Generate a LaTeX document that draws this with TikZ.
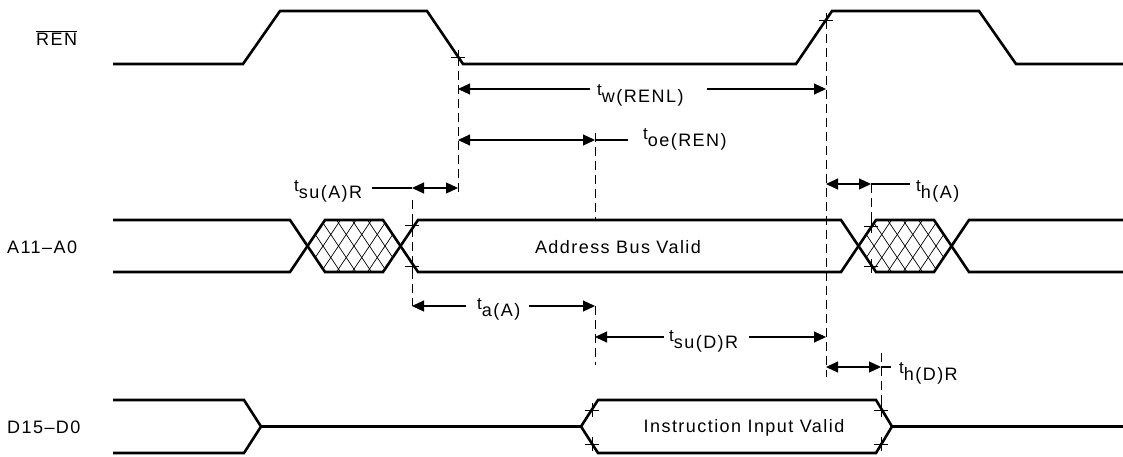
\documentclass[tikz,border=0pt]{standalone}
\usepackage{fontspec}
\setmainfont{Liberation Sans}[LetterSpace=8]
\usetikzlibrary{arrows.meta}
\newcommand\tsub[1]{{\fontsize{17}{18}\selectfont t}\raisebox{-7pt}{#1}}
\begin{document}
\begin{tikzpicture}[x=1pt,y=-1pt,
  wave/.style={line width=2.6pt, line join=miter},
  dimline/.style={line width=1.1pt},
  tipL/.style={{Triangle[length=12pt,width=11pt]}-},
  tipR/.style={-{Triangle[length=12pt,width=11pt]}},
  tipLR/.style={{Triangle[length=12pt,width=11pt]}-{Triangle[length=12pt,width=11pt]}},
  guide/.style={line width=0.9pt, dash pattern=on 9pt off 5pt},
  hatch/.style={line width=0.7pt},
  tick/.style={line width=0.8pt},
  lbl/.style={font=\fontsize{18}{20}\selectfont, inner sep=0pt},
]
\useasboundingbox (0,0) rectangle (1123,456);

% signal names
\node[lbl, anchor=west] (nren) at (36,38) {$\overline{\mbox{REN}}$};
\node[lbl, anchor=west] (naddr) at (7,247) {A11--A0};
\node[lbl, anchor=west] (ndata) at (7,427) {D15--D0};

% REN waveform
\draw[wave] (113,64) -- (243,64) -- (280,11) -- (427,11) -- (463,64) -- (796,64) -- (832,11) -- (979,11) -- (1016,64) -- (1123,64);

% address bus
\draw[wave] (113,220) -- (290,220) -- (325,272) -- (383,272) -- (418,220) -- (841,220) -- (876,272) -- (934,272) -- (969,220) -- (1123,220);
\draw[wave] (113,272) -- (290,272) -- (325,220) -- (383,220) -- (418,272) -- (841,272) -- (876,220) -- (934,220) -- (969,272) -- (1123,272);
\node[lbl] (abv) at (618,247) {Address Bus Valid};

% hatching
\begin{scope}
\clip (307.5,246) -- (325,220) -- (383,220) -- (400.5,246) -- (383,272) -- (325,272) -- cycle;
\foreach \k in {-8,...,8} {
  \draw[hatch] ({307.5+\k*15.5-35},298) -- ({307.5+\k*15.5+35},194);
  \draw[hatch] ({307.5+\k*15.5-35},194) -- ({307.5+\k*15.5+35},298);
}
\end{scope}
\begin{scope}
\clip (858.5,246) -- (876,220) -- (934,220) -- (951.5,246) -- (934,272) -- (876,272) -- cycle;
\foreach \k in {-8,...,8} {
  \draw[hatch] ({858.5+\k*15.5-35},298) -- ({858.5+\k*15.5+35},194);
  \draw[hatch] ({858.5+\k*15.5-35},194) -- ({858.5+\k*15.5+35},298);
}
\end{scope}

% data bus
\draw[wave] (113,400) -- (244,400) -- (261,426.5) -- (581,426.5) -- (598,400) -- (876,400) -- (892,426.5) -- (1123,426.5);
\draw[wave] (113,453) -- (244,453) -- (261,426.5);
\draw[wave] (581,426.5) -- (598,453) -- (876,453) -- (892,426.5);
\node[lbl] (iiv) at (744,428) {Instruction Input Valid};

% reference coordinates
\coordinate (renF) at (458,57);
\coordinate (renR) at (826,20);
\coordinate (aS1) at (412,225);
\coordinate (aS2) at (412,266);
\coordinate (aH1) at (871,226);
\coordinate (aH2) at (871,266);
\coordinate (dS1) at (592,410);
\coordinate (dS2) at (592,444);
\coordinate (dH1) at (881,410);
\coordinate (dH2) at (881,444);

% cross marks
\foreach \p in {renF,renR,aS1,aS2,aH1,aH2,dS1,dS2,dH1,dH2}
  \draw[tick] ([xshift=-7pt]\p) -- ([xshift=7pt]\p) ([yshift=-7pt]\p) -- ([yshift=7pt]\p);

% guide lines
\draw[guide] (renF) -- (458,197);
\draw[guide] (renR) -- (826,377);
\draw[guide] (595,133) -- (595,220);
\draw[guide] (595,306) -- (595,365);
\draw[guide] (412,200) -- (412,306);
\draw[guide] (871,184) -- (aH1);
\draw[guide] (881,353) -- (dH1);

% t_w(RENL)
\node[lbl, anchor=base west] (lw) at (597,95) {\tsub{w(RENL)}};
\draw[dimline, tipL] (458,89) -- (590,89);
\draw[dimline, tipR] (707,89) -- (826,89);

% t_oe(REN)
\node[lbl, anchor=base west] (loe) at (643,139) {\tsub{oe(REN)}};
\draw[dimline, tipLR] (458,140) -- (595,140);
\draw[dimline] (595,140) -- (628,140);

% t_su(A)R
\node[lbl, anchor=base west] (lsua) at (294,191) {\tsub{su(A)R}};
\draw[dimline] (372,188) -- (412,188);
\draw[dimline, tipLR] (412,188) -- (458,188);

% t_h(A)
\node[lbl, anchor=base west] (lha) at (916,191) {\tsub{h(A)}};
\draw[dimline, tipLR] (826,184) -- (871,184);
\draw[dimline] (871,184) -- (910,184);

% t_a(A)
\node[lbl, anchor=base west] (laa) at (477,309) {\tsub{a(A)}};
\draw[dimline, tipL] (412,306) -- (466,306);
\draw[dimline, tipR] (529,306) -- (595,306);

% t_su(D)R
\node[lbl, anchor=base west] (lsud) at (669,341) {\tsub{su(D)R}};
\draw[dimline, tipL] (595,337) -- (664,337);
\draw[dimline, tipR] (749,337) -- (826,337);

% t_h(D)R
\node[lbl, anchor=base west] (lhd) at (899,373) {\tsub{h(D)R}};
\draw[dimline, tipLR] (826,367) -- (881,367);
\draw[dimline] (881,367) -- (891,367);
\end{tikzpicture}
\end{document}
